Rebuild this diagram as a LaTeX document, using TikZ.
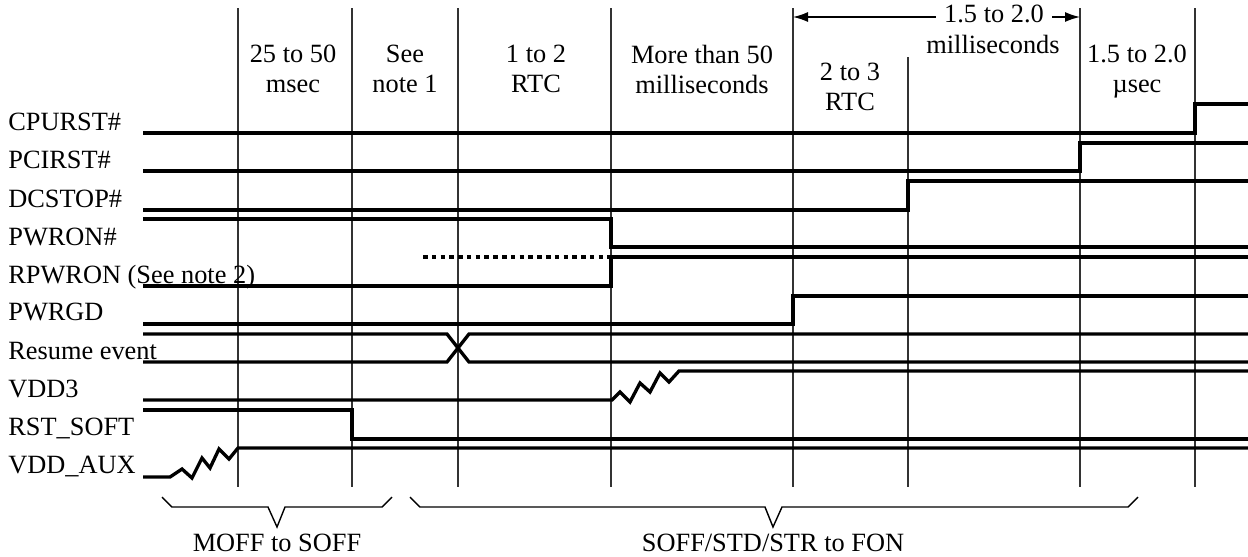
\documentclass[tikz,border=0pt]{standalone}
\usepackage{fontspec}
\setmainfont{Liberation Serif}
\usetikzlibrary{arrows.meta}
\tikzset{every picture/.style={x=0.02cm,y=-0.02cm},
  sig/.style={line width=1.9pt, line join=miter},
  tick/.style={line width=0.6pt, draw=black!80},
  brace/.style={line width=0.8pt},
  dimline/.style={line width=0.8pt, -{Latex[length=0.3cm,width=0.2cm]}},
  siglbl/.style={inner sep=0pt, anchor=base west, font=\fontsize{15}{17}\selectfont},
  span/.style={inner sep=0pt, anchor=north, align=center, font=\fontsize{15}{17}\selectfont},
  statelbl/.style={inner sep=0pt, anchor=base, font=\fontsize{15}{17}\selectfont}}

\begin{document}
\begin{tikzpicture}
        \useasboundingbox (0,0) rectangle (1248,556);

        % time marks
        \foreach \gx in {238,352,458,611,793,1080,1195}
          \draw[tick] (\gx,8) -- (\gx,487);
        \draw[tick] (908,57) -- (908,487);

        % signal names
        \foreach \txt/\yb [count=\i] in {CPURST\#/130, PCIRST\#/168, DCSTOP\#/207,
          PWRON\#/245, RPWRON (See note 2)/283, PWRGD/320, Resume event/359,
          VDD3/397, RST\_SOFT/435, VDD\_AUX/473}
          \node[siglbl] (s\i) at (8,\yb) {\txt};

        % interval labels
        \node[span] (t1) at (293,45) {25 to 50\\msec};
        \node[span] (t2) at (405,45) {See\\note 1};
        \node[span] (t3) at (536,45) {1 to 2\\RTC};
        \node[span] (t4) at (702,45) {More than 50\\milliseconds};
        \node[span] (t5) at (850,63) {2 to 3\\RTC};
        \node[span] (t6) at (1137,45) {1.5 to 2.0\\µsec};
        \node[statelbl, inner xsep=4.5pt] (dimtop) at (994,22) {1.5 to 2.0};
        \node[statelbl] (dimbot) at (993,53) {milliseconds};
        \coordinate (d1) at (793,17);
        \coordinate (d2) at (1080,17);
        \draw[dimline] (d1 -| dimtop.west) -- (d1);
        \draw[dimline] (d2 -| dimtop.east) -- (d2);

        % waveforms
        \draw[sig] (143,133) -- (1195,133) -- (1195,104) -- (1248,104);
        \draw[sig] (143,171) -- (1080,171) -- (1080,143) -- (1248,143);
        \draw[sig] (143,210) -- (908,210) -- (908,181) -- (1248,181);
        \draw[sig] (143,219) -- (611,219) -- (611,247) -- (1248,247);
        \draw[sig] (143,286) -- (611,286) -- (611,257) -- (1248,257);
        \draw[sig, dash pattern=on 2.6pt off 2.4pt] (423,257) -- (611,257);
        \draw[sig] (143,324) -- (793,324) -- (793,296) -- (1248,296);
        \draw[sig] (143,334) -- (447,334) -- (469,362) -- (1248,362);
        \draw[sig] (143,362) -- (447,362) -- (469,334) -- (1248,334);
        \draw[sig] (143,400) -- (612,400) -- (620,392) -- (630,402) -- (640,383)
          -- (650,392) -- (660,373) -- (669,382) -- (679,371) -- (1248,371);
        \draw[sig] (143,410) -- (352,410) -- (352,439) -- (1248,439);
        \draw[sig] (143,477) -- (170,477) -- (182,469) -- (192,478) -- (202,458)
          -- (210,468) -- (219,449) -- (229,459) -- (238,448) -- (1248,448);

        % power states
        \draw[brace] (162,497) -- (172,507) -- (268,507) -- (277,527) -- (285,507)
          -- (382,507) -- (392,497);
        \draw[brace] (410,497) -- (420,507) -- (765,507) -- (773,527) -- (782,507)
          -- (1128,507) -- (1138,497);
        \node[statelbl] (p1) at (277,551) {MOFF to SOFF};
        \node[statelbl] (p2) at (773,551) {SOFF/STD/STR to FON};
      \end{tikzpicture}
\end{document}
